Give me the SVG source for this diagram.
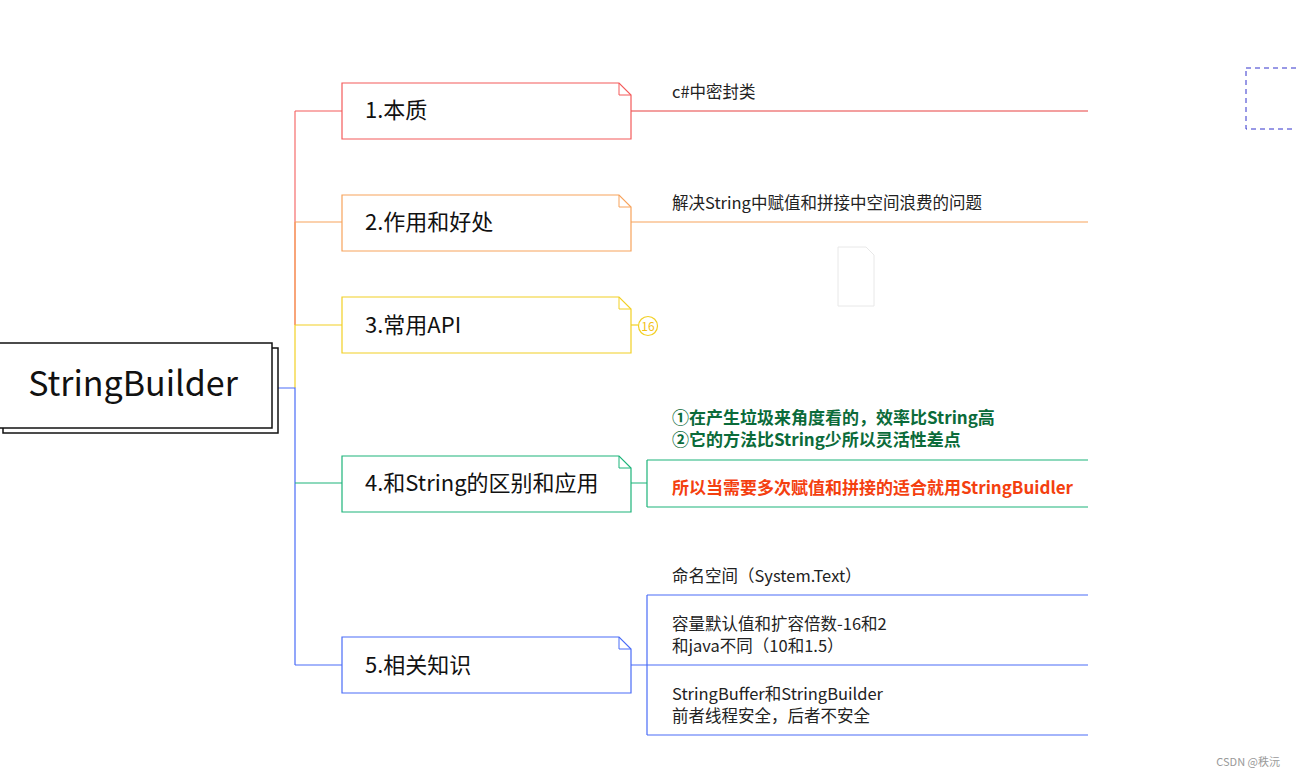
<svg xmlns="http://www.w3.org/2000/svg" width="1296" height="777" viewBox="0 0 1296 777">
<style>
text{font-family:"Noto Sans CJK SC","Noto Sans",sans-serif;}
.n{font-size:22px;fill:#111}
.s{font-size:16.5px;fill:#222}
.b{font-size:17px;font-weight:bold}
</style>
<rect width="1296" height="777" fill="#fff"/>
<g id="connectors" fill="none" stroke-width="1.2">
<path d="M295 111V325" stroke="#f56c6c"/>
<path d="M295 222V325" stroke="#f7a35c"/>
<path d="M295 325V388" stroke="#f2d024"/>
<path d="M278 388H295V665" stroke="#4a6cf7"/>
<path d="M295 483H342" stroke="#1db47a"/>
<path d="M295 111H342" stroke="#f45b5b"/>
<path d="M295 222H342" stroke="#f7a35c"/>
<path d="M295 325H342" stroke="#f2d024"/>
<path d="M295 665H342" stroke="#4a6cf7"/>
<path d="M631 111H1088" stroke="#e84040"/>
<path d="M631 222H1088" stroke="#f7a35c"/>
<path d="M631 325H638" stroke="#f2d024"/>
<path d="M631 483H647M647 460V507M647 460H1088M647 507H1088" stroke="#1db47a"/>
<path d="M631 665H647M647 595V735M647 595H1088M647 665H1088M647 735H1088" stroke="#4a6cf7"/>
</g>
<g id="root">
<rect x="3" y="348" width="275" height="85" fill="#fff" stroke="#111" stroke-width="1.5"/>
<rect x="-1" y="343" width="273" height="85" fill="#fff" stroke="#111" stroke-width="1.5"/>
<text x="133" y="396" text-anchor="middle" font-size="34" fill="#111" font-family="Noto Sans,sans-serif">StringBuilder</text>
</g>
<g id="n1"><path d="M342 83H619L631 95V139H342Z" fill="#fff" stroke="#f45b5b" stroke-width="1.2"/><path d="M619 83V95H631" fill="none" stroke="#f45b5b"/><text class="n" x="365" y="118">1.本质</text></g>
<g id="n2"><path d="M342 195H619L631 207V251H342Z" fill="#fff" stroke="#f7a35c" stroke-width="1.2"/><path d="M619 195V207H631" fill="none" stroke="#f7a35c"/><text class="n" x="365" y="230">2.作用和好处</text></g>
<g id="n3"><path d="M342 297H619L631 309V353H342Z" fill="#fff" stroke="#f2d024" stroke-width="1.2"/><path d="M619 297V309H631" fill="none" stroke="#f2d024"/><text class="n" x="365" y="333">3.常用API</text>
<circle cx="648" cy="326" r="9.5" fill="#fff" stroke="#f2d024" stroke-width="1.2"/><text x="648" y="331" text-anchor="middle" font-size="12" fill="#f2c014">16</text></g>
<g id="n4"><path d="M342 456H619L631 468V512H342Z" fill="#fff" stroke="#1db47a" stroke-width="1.2"/><path d="M619 456V468H631" fill="none" stroke="#1db47a"/><text class="n" x="365" y="491">4.和String的区别和应用</text></g>
<g id="n5"><path d="M342 637H619L631 649V693H342Z" fill="#fff" stroke="#4a6cf7" stroke-width="1.2"/><path d="M619 637V649H631" fill="none" stroke="#4a6cf7"/><text class="n" x="365" y="673">5.相关知识</text></g>
<g id="leaves">
<text class="s" x="672" y="98" fill="#3a1a1a">c#中密封类</text>
<text class="s" x="672" y="209">解决String中赋值和拼接中空间浪费的问题</text>
<text class="b" x="672" y="424" fill="#0b6b3a">①在产生垃圾来角度看的，效率比String高</text>
<text class="b" x="672" y="446" fill="#0b6b3a">②它的方法比String少所以灵活性差点</text>
<text class="b" x="672" y="494" fill="#f4400f">所以当需要多次赋值和拼接的适合就用StringBuidler</text>
<text class="s" x="672" y="582" fill="#1a1a3a">命名空间（System.Text）</text>
<text class="s" x="672" y="630" fill="#1a1a3a">容量默认值和扩容倍数-16和2</text>
<text class="s" x="672" y="652" fill="#1a1a3a">和java不同（10和1.5）</text>
<text class="s" x="672" y="700" fill="#1a1a3a">StringBuffer和StringBuilder</text>
<text class="s" x="672" y="722" fill="#1a1a3a">前者线程安全，后者不安全</text>
</g>
<path d="M838 247H866L874 255V306H838Z" fill="none" stroke="#e8e8e8"/>
<rect x="1246" y="68" width="60" height="61" fill="none" stroke="#3333cc" stroke-dasharray="5,4"/>
<text x="1280" y="766" text-anchor="end" font-size="11" fill="#999">CSDN @秩沅</text>
</svg>
